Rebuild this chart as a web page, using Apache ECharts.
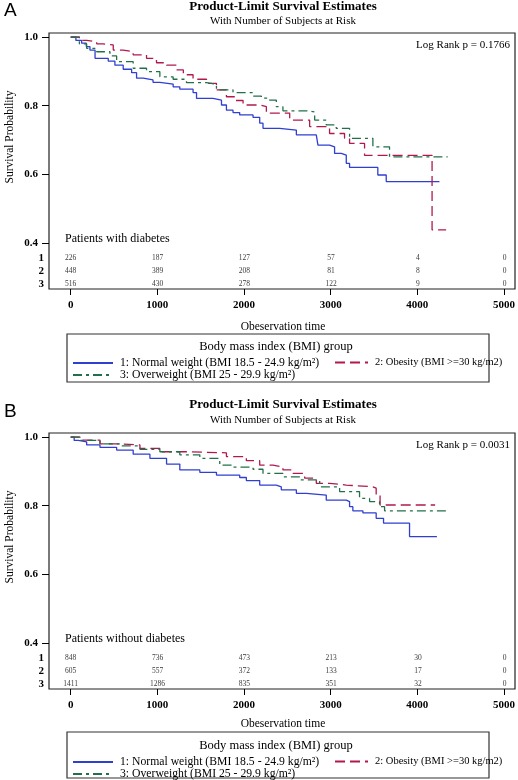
<!DOCTYPE html>
<html><head><meta charset="utf-8">
<script src="https://cdn.jsdelivr.net/npm/echarts@6/dist/echarts.min.js"></script>
<style>html,body{margin:0;padding:0;background:#fff}#c{width:518px;height:780px}</style>
</head><body><div id="c"></div>
<script>
// ---------- shared labels ----------
const groupNames = ['1: Normal weight (BMI 18.5 - 24.9 kg/m²)', '2: Obesity (BMI >=30 kg/m2)', '3: Overweight (BMI 25 - 29.9 kg/m²)'];
const riskRowLabels = ['1', '2', '3'];
const riskTimes = [0, 1000, 2000, 3000, 4000, 5000];

// ---------- Panel A: patients with diabetes ----------
const timeA1 = [0,60,126,180,222,281,433,510,606,703,760,836,950,1029,1182,1259,1412,1452,1643,1740,1797,1873,1950,2104,2181,2219,2411,2604,2834,2853,2987,3045,3122,3180,3218,3544,3641,4255];
const survA1 = [1.0,0.99,0.982,0.972,0.962,0.938,0.93,0.918,0.906,0.896,0.88,0.875,0.868,0.863,0.855,0.848,0.838,0.821,0.816,0.802,0.787,0.78,0.773,0.766,0.749,0.734,0.729,0.715,0.712,0.685,0.68,0.661,0.656,0.632,0.62,0.598,0.579,0.579];
const timeA2 = [0,100,184,300,373,491,606,721,875,990,1106,1221,1300,1412,1567,1682,1797,1900,1989,2181,2258,2527,2757,2987,3160,3218,3391,4170,4332];
const survA2 = [1.0,0.99,0.986,0.98,0.977,0.962,0.957,0.948,0.938,0.925,0.918,0.904,0.89,0.877,0.865,0.846,0.826,0.815,0.802,0.797,0.778,0.758,0.739,0.719,0.705,0.69,0.655,0.438,0.438];
const timeA3 = [0,100,184,300,453,530,721,875,1029,1182,1336,1567,1682,1873,2104,2200,2296,2373,2449,2719,2815,2949,3064,3218,3487,3679,4350];
const survA3 = [1.0,0.98,0.967,0.957,0.945,0.928,0.909,0.899,0.884,0.877,0.867,0.862,0.846,0.838,0.828,0.822,0.816,0.797,0.785,0.782,0.758,0.744,0.734,0.705,0.68,0.651,0.651];
const riskA1 = [226, 187, 127, 57, 4, 0];
const riskA2 = [448, 389, 208, 81, 8, 0];
const riskA3 = [516, 430, 278, 122, 9, 0];

// ---------- Panel B: patients without diabetes ----------
const timeB1 = [0,40,88,184,338,530,721,914,1106,1259,1490,1682,1950,2027,2181,2373,2430,2604,2719,2949,3180,3218,3256,3372,3525,3610,3910,4226];
const survB1 = [1.0,0.99,0.986,0.977,0.97,0.962,0.95,0.938,0.921,0.904,0.897,0.889,0.882,0.873,0.86,0.855,0.846,0.836,0.831,0.816,0.812,0.797,0.785,0.779,0.763,0.749,0.71,0.71];
const timeB2 = [0,107,338,568,799,1029,1336,1797,2027,2181,2334,2449,2565,2700,2834,2987,3180,3487,3525,3570,4205];
const survB2 = [1.0,0.991,0.98,0.977,0.967,0.957,0.954,0.943,0.931,0.918,0.913,0.904,0.894,0.88,0.865,0.86,0.855,0.851,0.831,0.802,0.802];
const timeB3 = [0,100,338,568,799,1029,1259,1490,1720,1873,2104,2219,2449,2645,2873,3103,3333,3449,3564,3622,4350];
const survB3 = [1.0,0.99,0.98,0.974,0.964,0.957,0.948,0.938,0.918,0.912,0.906,0.894,0.884,0.875,0.855,0.841,0.821,0.812,0.797,0.785,0.785];
const riskB1 = [848, 736, 473, 213, 30, 0];
const riskB2 = [605, 557, 372, 133, 17, 0];
const riskB3 = [1411, 1286, 835, 351, 32, 0];

// ---------- styling ----------
const SERIF = '"Liberation Serif", "DejaVu Serif", serif';
const colors = ['#2f3fcf', '#b0184e', '#22704a'];
const dashes = ['solid', [10, 5], [9, 4, 3, 4]];

const panels = [
  { dy: 0, letter: 'A', logrank: 'Log Rank p = 0.1766', label: 'Patients with diabetes',
    times: [timeA1, timeA2, timeA3], surv: [survA1, survA2, survA3], risk: [riskA1, riskA2, riskA3] },
  { dy: 400, letter: 'B', logrank: 'Log Rank p = 0.0031', label: 'Patients without diabetes',
    times: [timeB1, timeB2, timeB3], surv: [survB1, survB2, survB3], risk: [riskB1, riskB2, riskB3] }
];

const grid = [], xAxis = [], yAxis = [], series = [], legend = [], graphic = [];

function txt(x, y, text, opt) {
  opt = opt || {};
  graphic.push({
    type: 'text', x: x, y: y, rotation: opt.rotation || 0, silent: true,
    style: {
      text: text, fill: opt.color || '#000',
      fontFamily: opt.family || SERIF, fontSize: opt.size || 12, fontWeight: opt.weight || 'normal',
      align: opt.align || 'left', verticalAlign: 'middle',
      textAlign: opt.align || 'left', textVerticalAlign: 'middle'
    }
  });
}

panels.forEach((p, pi) => {
  const dy = p.dy;
  const g0 = pi * 3;
  // frame grid
  grid.push({ left: 49, top: 33 + dy, width: 466, height: 256, show: true, borderColor: '#222', borderWidth: 1.2, backgroundColor: 'transparent' });
  xAxis.push({ gridIndex: g0, type: 'value', show: false, min: 0, max: 1 });
  yAxis.push({ gridIndex: g0, type: 'value', show: false, min: 0, max: 1 });
  // plot grid
  grid.push({ left: 70.7, top: 37 + dy, width: 434, height: 206 });
  xAxis.push({
    gridIndex: g0 + 1, type: 'value', min: 0, max: 5000, interval: 1000, offset: 46,
    axisLine: { show: false, onZero: false },
    axisTick: { show: true, length: 6, lineStyle: { color: '#000', width: 1 } },
    axisLabel: { fontFamily: SERIF, fontWeight: 'bold', fontSize: 11, color: '#000', margin: 11, formatter: v => String(v) },
    splitLine: { show: false }
  });
  yAxis.push({
    gridIndex: g0 + 1, type: 'value', min: 0.4, max: 1.0, interval: 0.2, offset: 21.7,
    axisLine: { show: false, onZero: false },
    axisTick: { show: true, length: 7, lineStyle: { color: '#000', width: 1 } },
    axisLabel: { fontFamily: SERIF, fontWeight: 'bold', fontSize: 11, color: '#000', margin: 11, formatter: v => v.toFixed(1) },
    splitLine: { show: false }
  });
  // risk grid
  grid.push({ left: 70.7, top: 251 + dy, width: 434, height: 40 });
  xAxis.push({ gridIndex: g0 + 2, type: 'value', min: 0, max: 5000, show: false });
  yAxis.push({
    gridIndex: g0 + 2, type: 'category', data: riskRowLabels, inverse: true, offset: 21.7,
    axisLine: { show: false }, axisTick: { show: false }, splitLine: { show: false },
    axisLabel: { interval: 0, fontFamily: SERIF, fontWeight: 'bold', fontSize: 11, color: '#000', margin: 5 }
  });

  // survival curves
  for (let k = 0; k < 3; k++) {
    series.push({
      name: groupNames[k], type: 'line', step: 'end', symbol: 'none', showSymbol: false,
      xAxisIndex: g0 + 1, yAxisIndex: g0 + 1,
      data: p.times[k].map((t, i) => [t, p.surv[k][i]]),
      lineStyle: { color: colors[k], width: 1.3, type: dashes[k] },
      itemStyle: { color: colors[k] },
      z: 3 + k, animation: false
    });
  }
  // risk table
  const riskData = [];
  for (let k = 0; k < 3; k++) riskTimes.forEach((t, i) => riskData.push([t, k, p.risk[k][i]]));
  series.push({
    type: 'scatter', xAxisIndex: g0 + 2, yAxisIndex: g0 + 2, data: riskData, silent: true,
    symbolSize: 1, itemStyle: { color: 'rgba(0,0,0,0)' }, animation: false,
    label: { show: true, position: 'inside', formatter: q => String(q.value[2]), fontFamily: SERIF, fontSize: 7.5, color: '#000' }
  });

  // legends: one per item for exact placement
  const row1 = (pi ? 756 - 400 : 357) + dy;
  const row2 = (pi ? 768 - 400 : 369) + dy;
  const lg = (name, left, top, w, fs) => ({
    left: left, top: top, orient: 'horizontal', itemWidth: w, itemHeight: 10, padding: 0,
    selectedMode: false, data: [name],
    itemStyle: { color: 'rgba(0,0,0,0)', borderWidth: 0, opacity: 0 },
    textStyle: { fontFamily: SERIF, fontSize: fs, color: '#000', padding: [0, 0, 0, 2] }
  });
  legend.push(lg(groupNames[0], 72, row1, 40, 11.7));
  legend.push(lg(groupNames[1], 334, row1, 33, 10.5));
  legend.push(lg(groupNames[2], 72, row2, 40, 11.7));

  // texts
  txt(4, 11 + dy + (pi ? 1 : 0), p.letter, { family: '"Liberation Sans", Arial, sans-serif', size: 19 });
  txt(283, 7 + dy - (pi ? 2 : 0), 'Product-Limit Survival Estimates', { size: 13, weight: 'bold', align: 'center' });
  txt(283, 21 + dy - (pi ? 1 : 0), 'With Number of Subjects at Risk', { size: 11, align: 'center' });
  txt(510, 45 + dy, p.logrank, { size: 11, align: 'right' });
  txt(65, 239 + dy, p.label, { size: 12 });
  txt(10, 137 + dy, 'Survival Probability', { size: 11.5, align: 'center', rotation: Math.PI / 2 });
  txt(283, 327 + dy - (pi ? 3 : 0), 'Obeservation time', { size: 11.5, align: 'center' });
  graphic.push({ type: 'rect', silent: true, shape: { x: 67, y: 334 + dy - (pi ? 2 : 0), width: 422, height: pi ? 46 : 48 },
    style: { fill: 'none', stroke: '#333', lineWidth: 1.2 } });
  txt(276, 347 + dy - (pi ? 1 : 0), 'Body mass index (BMI) group', { size: 12.5, align: 'center' });
});

const chart = echarts.init(document.getElementById('c'), null, { renderer: 'canvas' });
chart.setOption({
  animation: false, backgroundColor: '#fff',
  grid: grid, xAxis: xAxis, yAxis: yAxis, series: series, legend: legend, graphic: graphic
});
</script></body></html>
